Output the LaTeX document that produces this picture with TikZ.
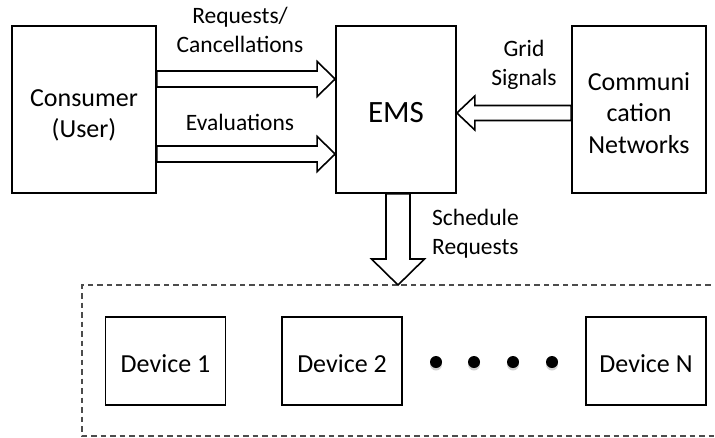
\documentclass[tikz,border=0pt]{standalone}
\usepackage{fontspec}
\setmainfont{Carlito}
\usetikzlibrary{calc}
\tikzset{
  box/.style={draw, line width=1.7pt, inner sep=0pt},
  boxtext/.style={inner sep=0pt, align=center, anchor=base,
    font=\fontsize{26}{31.5}\selectfont},
  devbox/.style={box, minimum width=120pt, minimum height=88pt},
  lbl/.style={inner sep=0pt, align=center, font=\fontsize{23.5}{28.5}\selectfont},
  barrow/.style={draw, fill=white, line width=1.6pt, line join=miter},
  grp/.style={draw=black!70, dash pattern=on 5.5pt off 4pt, line width=1.2pt},
  dotnode/.style={circle, fill=black, inner sep=0pt, minimum size=12pt,
    preaction={fill=black!18, transform canvas={yshift=-2.5pt}}}
}
% #1 start, #2 tip, #3 body half width, #4 head half width, #5 head length
\newcommand{\blockarr}[5]{%
  \coordinate (tmpb) at ($(#2)!#5!(#1)$);
  \draw[barrow] ($(#1)!#3!90:(#2)$) -- ($(tmpb)!#3!-90:(#1)$)
    -- ($(tmpb)!#4!-90:(#1)$) -- (#2) -- ($(tmpb)!#4!90:(#1)$)
    -- ($(tmpb)!#3!90:(#1)$) -- ($(#1)!#3!-90:(#2)$) -- cycle;
}
\begin{document}
\begin{tikzpicture}[x=1pt, y=-1pt]
  \useasboundingbox (0,0) rectangle (715,437);
  % main boxes
  \node[box, minimum width=144pt, minimum height=167pt] (cons) at (84,109.5) {};
  \node[boxtext] (constext) at ($(cons.center)+(0,28)$) {Consumer\\(User)};
  \node[box, minimum width=120pt, minimum height=167pt] (ems) at (396,109.5) {};
  \node[boxtext, font=\fontsize{31}{36}\selectfont] (emstext) at ($(ems.center)+(0,12.5)$) {EMS};
  \node[box, minimum width=134pt, minimum height=167pt] (comm) at (639,109.5) {};
  \node[boxtext] (commtext) at ($(comm.center)+(0,43.5)$) {Communi\\cation\\Networks};
  % device group
  \coordinate (dtl) at (82,285);
  \coordinate (dbl) at (82,436);
  \draw[grp] (dtl -| 720,0) -- (dtl) -- (dbl) -- (dbl -| 720,0);
  \node[devbox] (dev1) at (165.5,361) {};
  \node[boxtext] (dev1text) at ($(dev1.center)+(0,11.5)$) {Device 1};
  \node[devbox] (dev2) at (342,361) {};
  \node[boxtext] (dev2text) at ($(dev2.center)+(0,11.5)$) {Device 2};
  \node[devbox] (devn) at (646,361) {};
  \node[boxtext] (devntext) at ($(devn.center)+(0,11.5)$) {Device N};
  \foreach \x [count=\i] in {436,474,513,552} {
    \node[dotnode] (dot\i) at (\x,362) {};
  }
  % arrows
  \coordinate (r1s) at ($(cons.east)+(0,-30.5)$);
  \coordinate (r1e) at (r1s -| ems.west);
  \blockarr{r1s}{r1e}{8pt}{17.5pt}{18pt}
  \coordinate (r2s) at ($(cons.east)+(0,44.5)$);
  \coordinate (r2e) at (r2s -| ems.west);
  \blockarr{r2s}{r2e}{8pt}{17.5pt}{18pt}
  \coordinate (gs) at ($(comm.west)+(0,3.5)$);
  \coordinate (ge) at (gs -| ems.east);
  \blockarr{gs}{ge}{7.5pt}{17pt}{18pt}
  \coordinate (ss) at ($(ems.south)+(2,0)$);
  \coordinate (se) at (ss |- dtl);
  \blockarr{ss}{se}{12pt}{26.5pt}{26pt}
  % labels (base = baseline of last line)
  \node[lbl, anchor=base] (lreq) at (240,52) {Requests/\\Cancellations};
  \node[lbl, anchor=base] (leval) at (240,130.5) {Evaluations};
  \node[lbl, anchor=base] (lgrid) at (524,85) {Grid\\Signals};
  \node[lbl, anchor=base west, align=left] (lsched) at (432,254) {Schedule\\Requests};
\end{tikzpicture}
\end{document}
